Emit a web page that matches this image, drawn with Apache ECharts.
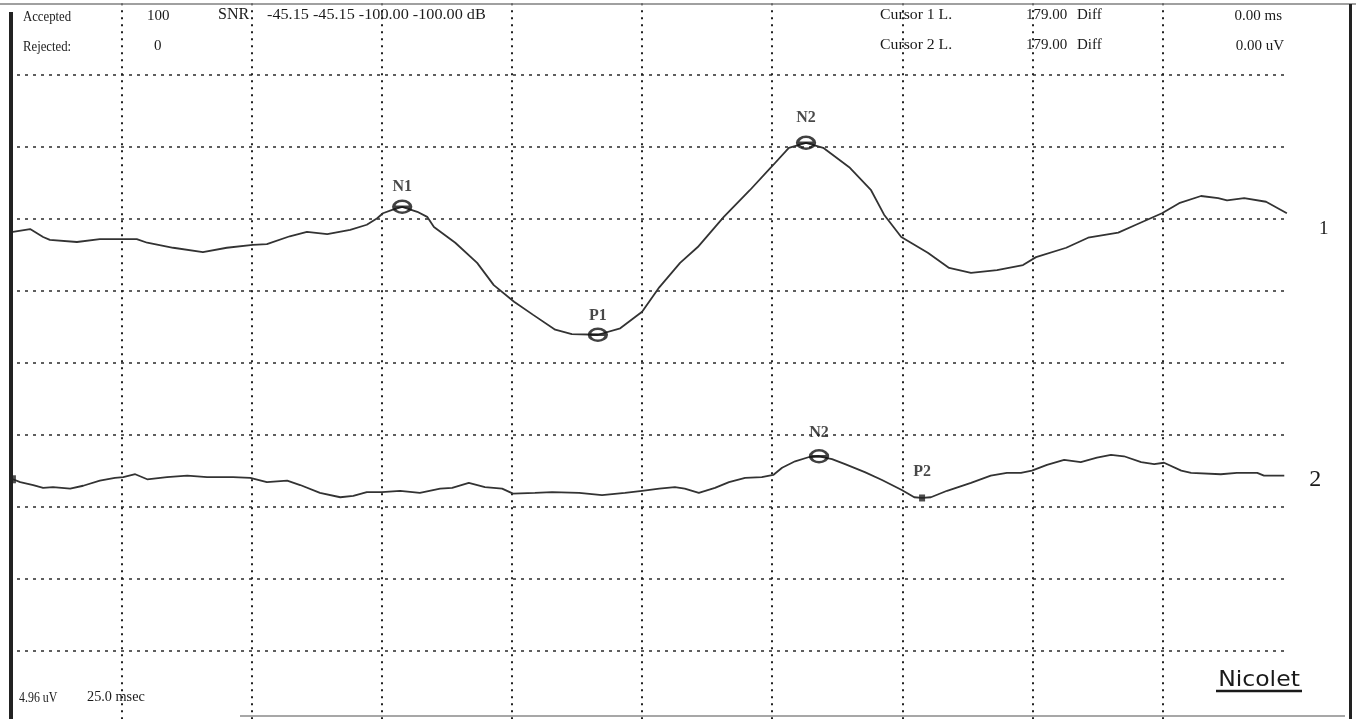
<!DOCTYPE html>
<html>
<head>
<meta charset="utf-8">
<script src="https://cdn.jsdelivr.net/npm/echarts@6/dist/echarts.min.js"></script>
<style>
html,body{margin:0;padding:0;background:#fff;}
#chart{width:1356px;height:719px;}
</style>
</head>
<body>
<div id="chart"></div>
<script>
// ---- Data (time in ms, amplitude in display divisions of 4.96 uV) ----
const times1 = [4.1,7.4,9.9,11.2,16.4,20.8,27.9,29.9,34.9,40.6,45.2,50.2,52.9,57.3,60.6,64.5,68.9,72.1,74.1,75.2,77.1,78.9,81.8,83.7,85.0,89.1,93.3,96.5,100.4,104.0,108.3,111.5,116.5,120.8,125.0,128.3,132.3,135.7,140.7,145.7,149.8,153.2,156.5,159.8,164.8,169.0,171.5,174.8,179.9,184.0,188.2,193.2,198.2,200.7,206.5,210.7,216.5,219.9,224.9,228.2,232.4,235.7,237.4,240.7,244.9,248.9];
const values1 = [6.82,6.86,6.75,6.71,6.68,6.72,6.72,6.67,6.60,6.54,6.60,6.64,6.65,6.76,6.82,6.79,6.85,6.92,7.01,7.08,7.13,7.17,7.10,7.03,6.89,6.67,6.39,6.08,5.85,5.67,5.46,5.40,5.39,5.48,5.71,6.05,6.39,6.61,7.03,7.40,7.72,7.99,8.06,7.99,7.72,7.40,7.06,6.75,6.53,6.32,6.25,6.29,6.36,6.47,6.60,6.74,6.81,6.92,7.08,7.22,7.32,7.29,7.26,7.29,7.24,7.08];

const times2 = [4.1,5.5,8.0,9.9,11.8,15.1,17.6,20.8,23.7,25.3,27.6,29.9,33.7,37.6,41.4,46.4,49.7,52.9,56.8,59.3,63.1,67.0,69.5,72.1,75.0,78.5,82.3,86.2,88.5,91.7,94.8,98.1,100.2,104.4,107.7,112.9,117.3,121.7,125.0,128.3,131.3,133.2,135.9,139.0,141.7,144.8,148.0,150.2,151.9,154.4,157.1,159.0,161.5,164.0,167.8,171.1,174.9,177.3,178.8,180.5,183.6,188.2,192.0,195.1,197.8,199.9,202.8,206.1,209.3,212.4,215.1,217.6,220.9,223.4,225.3,228.6,230.5,236.2,239.3,243.2,244.5,248.4];
const values2 = [3.38,3.34,3.30,3.26,3.27,3.25,3.29,3.36,3.40,3.41,3.45,3.38,3.41,3.43,3.41,3.41,3.40,3.34,3.36,3.30,3.19,3.13,3.15,3.20,3.20,3.22,3.19,3.25,3.26,3.33,3.27,3.25,3.18,3.19,3.20,3.19,3.16,3.19,3.22,3.25,3.27,3.25,3.19,3.26,3.34,3.40,3.41,3.44,3.54,3.63,3.69,3.70,3.66,3.59,3.48,3.37,3.23,3.13,3.12,3.13,3.22,3.33,3.43,3.47,3.47,3.50,3.58,3.65,3.62,3.68,3.72,3.70,3.62,3.59,3.61,3.50,3.47,3.45,3.47,3.47,3.43,3.43];

const peakNames1 = ['N1','P1','N2'];
const peakTimes1 = [78.9,116.5,156.5];
const peakValues1 = [7.17,5.39,8.06];
const peakNames2 = ['N2','P2'];
const peakTimes2 = [159.0,178.8];
const peakValues2 = [3.70,3.12];

const headerLeft = ['Accepted','Rejected:'];
const headerCounts = ['100','0'];
const snrText = '-45.15 -45.15 -100.00 -100.00 dB';
const cursorNames = ['Cursor 1 L.','Cursor 2 L.'];
const cursorValues = ['179.00','179.00'];
const diffValues = ['0.00 ms','0.00 uV'];
const scaleTexts = ['4.96 uV','25.0 msec'];
const traceNames = ['1','2'];

// ---- styles ----
const SERIF = '"Liberation Serif","DejaVu Serif",serif';
const INK = '#1a1a1a';
const peakStyle1 = [{dist:5},{dist:4},{dist:10}];
const peakStyle2 = [{dist:8, sym:'ellipse'},{dist:15, sym:'rect'}];
const ellipsePath = 'path://M0,5 A7,5 0 1,1 14,5 A7,5 0 1,1 0,5 Z M0,5 L14,5';

function zip(t, v){ return t.map((x,i)=>[x, v[i]]); }

function txt(str, x, y, opts){
  opts = opts || {};
  return {
    type:'text', x:x, y:y, scaleX: opts.sx || 1, silent:true, z:50,
    style:{
      text:str, x:0, y:0,
      fill: INK,
      font: (opts.weight||'normal') + ' ' + (opts.size||15) + 'px ' + (opts.family||SERIF),
      textAlign: opts.align || 'left',
      textVerticalAlign: 'middle'
    }
  };
}

const chart = echarts.init(document.getElementById('chart'));

const graphics = [
  // scan frame
  {type:'line', silent:true, z:40, shape:{x1:0,y1:4,x2:1356,y2:4}, style:{stroke:'#808080',lineWidth:1.5}},
  {type:'rect', silent:true, z:40, shape:{x:9,y:12,width:4,height:707}, style:{fill:'#222'}},
  {type:'rect', silent:true, z:40, shape:{x:1349,y:4,width:3,height:715}, style:{fill:'#222'}},
  {type:'line', silent:true, z:40, shape:{x1:240,y1:716,x2:1345,y2:716}, style:{stroke:'#8a8a8a',lineWidth:1.5}},
  // header texts
  txt(headerLeft[0], 23, 17, {size:15, sx:0.85}),
  txt(headerLeft[1], 23, 47, {size:15, sx:0.85}),
  txt(headerCounts[0], 147, 16),
  txt(headerCounts[1], 154, 46),
  txt('SNR', 218, 15, {size:16}),
  txt(snrText, 267, 15, {size:15, sx:1.08}),
  txt(cursorNames[0], 880, 15, {size:15, sx:1.05}),
  txt(cursorNames[1], 880, 45, {size:15, sx:1.05}),
  txt(cursorValues[0], 1026, 15),
  txt(cursorValues[1], 1026, 45),
  txt('Diff', 1077, 15),
  txt('Diff', 1077, 45),
  txt(diffValues[0], 1282, 16, {align:'right'}),
  txt(diffValues[1], 1284, 46, {align:'right'}),
  // scale texts
  txt(scaleTexts[0], 19, 698, {size:14, sx:0.85}),
  txt(scaleTexts[1], 87, 697, {size:15, sx:0.95}),
  // Nicolet logo
  {type:'text', x:1259, y:680, scaleX:1.07, silent:true, z:50,
   style:{text:'Nicolet', x:0, y:0, fill:INK, font:'normal 22px "DejaVu Sans","Open Sans",sans-serif', textAlign:'center', textVerticalAlign:'middle'}},
  {type:'line', silent:true, z:50, shape:{x1:1216,y1:691,x2:1302,y2:691}, style:{stroke:INK,lineWidth:2.5}}
];

const dottedV = {show:true, lineStyle:{color:'#202020', width:2, type:[2,5]}, showMinLine:false, showMaxLine:false};
const dottedH = {show:true, lineStyle:{color:'#2a2a2a', width:1.6, type:[3,5]}, showMinLine:false, showMaxLine:false};

const option = {
  backgroundColor:'#ffffff',
  animation:false,
  graphic: graphics,
  grid:[
    {left:-8.4, width:1301, top:3.3, height:719, containLabel:false, outerBoundsMode:'none'},
    {left:17, right:69, top:3.3, height:719, containLabel:false, outerBoundsMode:'none'}
  ],
  xAxis:[
    {type:'value', gridIndex:0, min:0, max:250, interval:25,
     axisLine:{show:false}, axisTick:{show:false}, axisLabel:{show:false}, splitLine:dottedV},
    {type:'value', gridIndex:1, min:0, max:1, show:false, splitLine:{show:false}}
  ],
  yAxis:[
    {type:'value', gridIndex:0, min:0, max:10, interval:1,
     axisLine:{show:false}, axisTick:{show:false}, axisLabel:{show:false}, splitLine:{show:false}},
    {type:'value', gridIndex:1, min:0, max:10, interval:1,
     axisLine:{show:false}, axisTick:{show:false}, axisLabel:{show:false}, splitLine:dottedH}
  ],
  series:[
    {type:'line', xAxisIndex:0, yAxisIndex:0, data:zip(times1, values1), showSymbol:false, symbol:'none',
     lineStyle:{color:'#333', width:1.8}, z:5,
     endLabel:{show:true, formatter:traceNames[0], offset:[24,16], color:INK, fontFamily:SERIF, fontSize:19}},
    {type:'line', xAxisIndex:0, yAxisIndex:0, data:zip(times2, values2), showSymbol:false, symbol:'none',
     lineStyle:{color:'#333', width:1.8}, z:5,
     endLabel:{show:true, formatter:traceNames[1], offset:[17,4], color:INK, fontFamily:SERIF, fontSize:24}},
    {type:'scatter', xAxisIndex:0, yAxisIndex:0, z:10,
     data: peakNames1.map((n,i)=>({name:n, value:[peakTimes1[i], peakValues1[i]],
        label:{distance:peakStyle1[i].dist}})),
     symbol: ellipsePath, symbolSize:[17,12],
     itemStyle:{color:'rgba(0,0,0,0)', borderColor:'#111', borderWidth:2.8},
     label:{show:true, position:'top', formatter:'{b}', color:INK, fontFamily:SERIF, fontWeight:'bold', fontSize:16}},
    {type:'scatter', xAxisIndex:0, yAxisIndex:0, z:10,
     data: peakNames2.map((n,i)=>{
        const st = peakStyle2[i];
        return {name:n, value:[peakTimes2[i], peakValues2[i]],
          symbol: st.sym==='rect' ? 'rect' : ellipsePath,
          symbolSize: st.sym==='rect' ? [6,7] : [17,12],
          itemStyle: st.sym==='rect' ? {color:'#222', borderWidth:0} : {color:'rgba(0,0,0,0)', borderColor:'#111', borderWidth:2.8},
          label:{distance:st.dist}};
     }),
     label:{show:true, position:'top', formatter:'{b}', color:INK, fontFamily:SERIF, fontWeight:'bold', fontSize:16}},
    {type:'scatter', xAxisIndex:0, yAxisIndex:0, z:10,
     data:[[times2[0], values2[0]]], symbol:'rect', symbolSize:[6,8], itemStyle:{color:'#222'}}
  ]
};
chart.setOption(option);
</script>
</body>
</html>
